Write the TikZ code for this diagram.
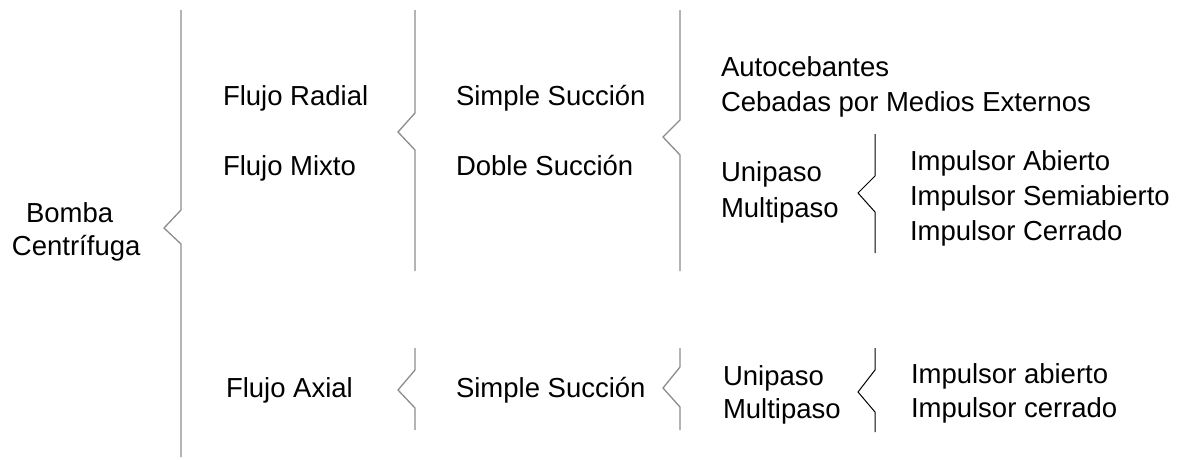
\documentclass[tikz,border=0pt]{standalone}
\usepackage{fontspec}
\setmainfont{Liberation Sans}
\begin{document}
\begin{tikzpicture}[x=1pt,y=-1pt,
  lbl/.style={anchor=base west,inner sep=0pt,outer sep=0pt,
              font=\fontsize{27.5}{32}\selectfont,text=black},
  graybrace/.style={draw=black!45,line width=1.3pt,line join=miter},
  darkbrace/.style={draw=black,line width=1pt,line join=miter}]
\useasboundingbox (0,0) rectangle (1183,459);

% ---- text ----
\node[lbl] (bomba) at (26,222) {Bomba};
\node[lbl] (centr) at (12,255) {Centrífuga};

\node[lbl] (radial) at (223,105) {Flujo Radial};
\node[lbl] (mixto)  at (223,175) {Flujo Mixto};
\node[lbl] (axial)  at (226,397) {Flujo Axial};

\node[lbl] (simple) at (456,105) {Simple Succión};
\node[lbl] (doble)  at (456,175) {Doble Succión};
\node[lbl] (simpleB) at (456,397) {Simple Succión};

\node[lbl] (auto)   at (721,76)  {Autocebantes};
\node[lbl] (cebadas) at (721,111) {Cebadas por Medios Externos};
\node[lbl] (uni)    at (721,181) {Unipaso};
\node[lbl] (multi)  at (721,217) {Multipaso};
\node[lbl] (uniB)   at (723,385) {Unipaso};
\node[lbl] (multiB) at (723,418) {Multipaso};

\node[lbl] (iab)  at (910,170) {Impulsor Abierto};
\node[lbl] (isemi) at (910,205) {Impulsor Semiabierto};
\node[lbl] (icer) at (910,240) {Impulsor Cerrado};
\node[lbl] (iabB) at (911,383) {Impulsor abierto};
\node[lbl] (icerB) at (911,417) {Impulsor cerrado};

% ---- notched braces: vertical bar with a leftward V ----
% #1 style, #2 x, #3 top, #4 notch start, #5 tip x, #6 tip y, #7 notch end, #8 bottom
\newcommand\notchbar[8][graybrace]{%
  \draw[#1] (#2,#3) -- (#2,#4) -- (#5,#6) -- (#2,#7) -- (#2,#8);}

\notchbar{181}{10}{210}{164}{228}{244}{457}
\notchbar{415}{10}{113}{398}{132}{150}{271}
\notchbar{415}{348}{370}{398}{390}{408}{430}
\notchbar{680}{10}{120}{663}{137}{155}{271}
\notchbar{680}{348}{367}{663}{388}{407}{430}
\notchbar[darkbrace]{875}{134}{176}{858}{193}{212}{253}
\notchbar[darkbrace]{875}{348}{370}{858}{392}{412}{432}
\end{tikzpicture}
\end{document}
